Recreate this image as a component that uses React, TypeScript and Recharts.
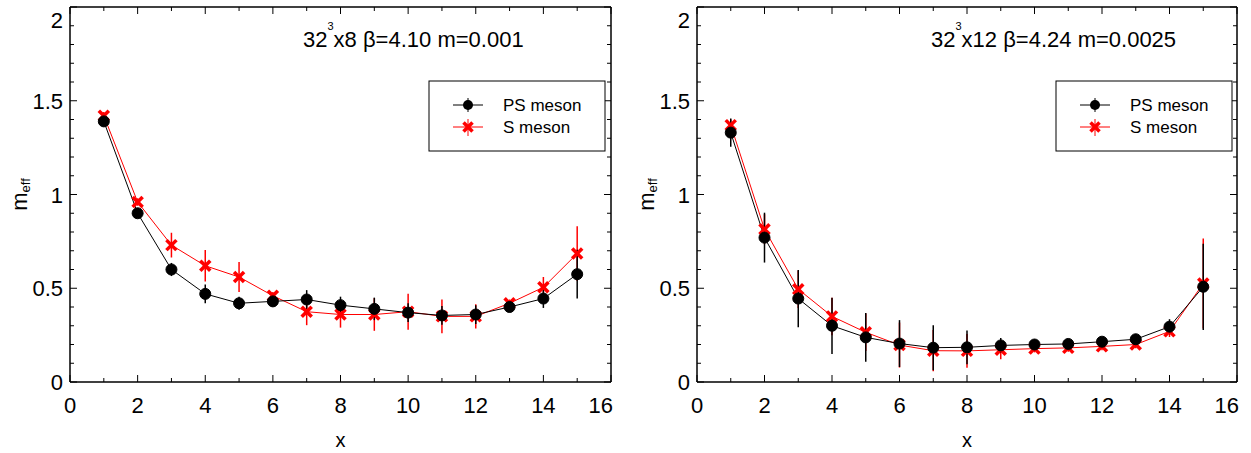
import React from 'react';
import { ComposedChart, Line, XAxis, YAxis, ErrorBar, ReferenceLine } from 'recharts';

const FONT = '"Liberation Sans", Arial, sans-serif';

// time slice x
const xValues = [1, 2, 3, 4, 5, 6, 7, 8, 9, 10, 11, 12, 13, 14, 15];
const xTicks = [0, 1, 2, 3, 4, 5, 6, 7, 8, 9, 10, 11, 12, 13, 14, 15, 16];
const yTicks = [0, 0.1, 0.2, 0.3, 0.4, 0.5, 0.6, 0.7, 0.8, 0.9, 1, 1.1, 1.2, 1.3, 1.4, 1.5, 1.6, 1.7, 1.8, 1.9, 2];

// left panel: 32^3x8 beta=4.10 m=0.001
const psLeft = [1.39, 0.9, 0.6, 0.47, 0.42, 0.43, 0.44, 0.41, 0.39, 0.37, 0.355, 0.36, 0.4, 0.445, 0.575];
const psLeftErr = [0.02, 0.02, 0.035, 0.05, 0.035, 0.02, 0.05, 0.045, 0.06, 0.05, 0.05, 0.05, 0.02, 0.05, 0.13];
const sLeft = [1.42, 0.96, 0.73, 0.62, 0.56, 0.46, 0.375, 0.36, 0.36, 0.375, 0.35, 0.35, 0.42, 0.505, 0.685];
const sLeftErr = [0.02, 0.02, 0.066, 0.084, 0.08, 0.02, 0.072, 0.07, 0.087, 0.096, 0.09, 0.065, 0.02, 0.055, 0.146];

// right panel: 32^3x12 beta=4.24 m=0.0025
const psRight = [1.33, 0.77, 0.445, 0.3, 0.238, 0.205, 0.183, 0.185, 0.195, 0.2, 0.203, 0.215, 0.228, 0.295, 0.508];
const psRightErr = [0.075, 0.133, 0.153, 0.15, 0.13, 0.125, 0.12, 0.09, 0.04, 0.02, 0.02, 0.02, 0.02, 0.04, 0.23];
const sRight = [1.37, 0.815, 0.495, 0.35, 0.265, 0.197, 0.167, 0.166, 0.172, 0.178, 0.182, 0.19, 0.2, 0.27, 0.525];
const sRightErr = [0.03, 0.08, 0.1, 0.1, 0.1, 0.12, 0.11, 0.09, 0.05, 0.02, 0.02, 0.02, 0.02, 0.03, 0.24];

const buildRows = (ps: number[], psErr: number[], s: number[], sErr: number[]) =>
  xValues.map((x, i) => ({ x, ps: ps[i], psErr: psErr[i], s: s[i], sErr: sErr[i] }));

const isMajorY = (v: number) => Math.abs(v * 2 - Math.round(v * 2)) < 1e-6;

// bottom axis tick: inward tick on bottom and mirrored one on the top edge
function BottomTick(props: any) {
  const { x, y, payload, plotTop } = props;
  const major = payload.value % 2 === 0;
  const len = major ? 7 : 4;
  const last = payload.value === 16;
  return (
    <g>
      <line x1={x} x2={x} y1={y} y2={y - len} stroke="#000" strokeWidth={1} />
      <line x1={x} x2={x} y1={plotTop} y2={plotTop + len} stroke="#000" strokeWidth={1} />
      {major && (
        <text
          x={last ? x + 2 : x}
          y={y + 31}
          textAnchor={last ? 'end' : 'middle'}
          fontSize={22}
          fontFamily={FONT}
          fill="#000"
        >
          {payload.value}
        </text>
      )}
    </g>
  );
}

// left axis tick: inward tick on left and mirrored one on the right edge
function LeftTick(props: any) {
  const { x, y, payload, plotRight } = props;
  const major = isMajorY(payload.value);
  const len = major ? 7 : 4;
  const top = payload.value === 2;
  return (
    <g>
      <line x1={x} x2={x + len} y1={y} y2={y} stroke="#000" strokeWidth={1} />
      <line x1={plotRight} x2={plotRight - len} y1={y} y2={y} stroke="#000" strokeWidth={1} />
      {major && (
        <text x={x - 7} y={y + 8 + (top ? 13 : 0)} textAnchor="end" fontSize={22} fontFamily={FONT} fill="#000">
          {Number(payload.value.toFixed(1)).toString()}
        </text>
      )}
    </g>
  );
}

function MeffLabel(props: any) {
  const vb = props.viewBox || { x: 0, y: 7, width: 70, height: 375 };
  const cx = vb.x + 19;
  const cy = vb.y + vb.height / 2;
  return (
    <text
      x={cx}
      y={cy}
      transform={`rotate(-90 ${cx} ${cy})`}
      textAnchor="middle"
      dominantBaseline="central"
      fontSize={22}
      fontFamily={FONT}
      fill="#000"
    >
      m<tspan fontSize={13} dy={6}>eff</tspan>
    </text>
  );
}

function CrossDot(props: any) {
  const { cx, cy, index } = props;
  if (cx == null || cy == null) return <g key={`c-${index}`} />;
  const d = 5;
  return (
    <g key={`c-${index}`}>
      <line x1={cx - d} y1={cy - d} x2={cx + d} y2={cy + d} stroke="#ff0000" strokeWidth={3.5} />
      <line x1={cx - d} y1={cy + d} x2={cx + d} y2={cy - d} stroke="#ff0000" strokeWidth={3.5} />
    </g>
  );
}

const axisLine = { stroke: '#000', strokeWidth: 1.5 };
const MARGIN = { top: 7, right: 9, bottom: 0, left: 0 };

function Panel({ rows, width }: { rows: any[]; width: number }) {
  const plotRight = width - MARGIN.right;
  return (
    <ComposedChart width={width} height={453} data={rows} margin={MARGIN} style={{ overflow: 'visible' }}>
      <XAxis
        dataKey="x"
        type="number"
        domain={[0, 16]}
        ticks={xTicks}
        interval={0}
        allowDataOverflow
        height={71}
        tickSize={0}
        tickMargin={0}
        tickLine={false}
        tick={<BottomTick plotTop={MARGIN.top} />}
        axisLine={axisLine}
        label={{ value: 'x', position: 'insideBottom', offset: 6, fontSize: 20, fill: '#000', fontFamily: FONT }}
      />
      <YAxis
        type="number"
        domain={[0, 2]}
        ticks={yTicks}
        interval={0}
        allowDataOverflow
        width={70}
        tickSize={0}
        tickMargin={0}
        tickLine={false}
        tick={<LeftTick plotRight={plotRight} />}
        axisLine={axisLine}
        label={(p: any) => <MeffLabel {...p} />}
      />
      {/* top and right frame of the box */}
      <ReferenceLine y={2} stroke="#000" strokeWidth={1.5} ifOverflow="visible" />
      <ReferenceLine x={16} stroke="#000" strokeWidth={1.5} ifOverflow="visible" />
      <Line
        dataKey="s"
        type="linear"
        stroke="#ff0000"
        strokeWidth={1}
        dot={CrossDot}
        activeDot={false}
        isAnimationActive={false}
      >
        <ErrorBar dataKey="sErr" width={0} stroke="#ff0000" strokeWidth={1.5} direction="y" isAnimationActive={false} />
      </Line>
      <Line
        dataKey="ps"
        type="linear"
        stroke="#000"
        strokeWidth={1}
        dot={{ r: 5.5, fill: '#000', stroke: '#000', strokeWidth: 1 }}
        activeDot={false}
        isAnimationActive={false}
      >
        <ErrorBar dataKey="psErr" width={0} stroke="#000" strokeWidth={1.5} direction="y" isAnimationActive={false} />
      </Line>
    </ComposedChart>
  );
}

function Legend({ left }: { left: number }) {
  const mx = left + 39;
  return (
    <g fontFamily={FONT} fontSize={17} fill="#000">
      <rect x={left} y={81} width={176} height={70} fill="#fff" stroke="#000" strokeWidth={1} />
      <line x1={mx - 15} x2={mx + 15} y1={105} y2={105} stroke="#000" />
      <line x1={mx} x2={mx} y1={98} y2={112} stroke="#000" />
      <circle cx={mx} cy={105} r={5} fill="#000" />
      <text x={left + 74} y={111}>PS meson</text>
      <line x1={mx - 15} x2={mx + 15} y1={127} y2={127} stroke="#ff0000" />
      <line x1={mx} x2={mx} y1={119} y2={136} stroke="#ff0000" />
      <line x1={mx - 4.5} y1={122.5} x2={mx + 4.5} y2={131.5} stroke="#ff0000" strokeWidth={3.5} />
      <line x1={mx - 4.5} y1={131.5} x2={mx + 4.5} y2={122.5} stroke="#ff0000" strokeWidth={3.5} />
      <text x={left + 74} y={133}>S meson</text>
    </g>
  );
}

function Title({ x, lt, rest }: { x: number; lt: string; rest: string }) {
  return (
    <text x={x} y={47} fontFamily={FONT} fontSize={22} fill="#000">
      {'32'}
      <tspan fontSize={11} dy={-17}>3</tspan>
      <tspan dy={17}>{`x${lt} ${rest}`}</tspan>
    </text>
  );
}

export default function App() {
  const leftRows = buildRows(psLeft, psLeftErr, sLeft, sLeftErr);
  const rightRows = buildRows(psRight, psRightErr, sRight, sRightErr);
  return (
    <div style={{ position: 'absolute', left: 0, top: 0, width: 1251, height: 453, background: '#fff' }}>
      <div style={{ position: 'absolute', left: 0, top: 0 }}>
        <Panel rows={leftRows} width={620} />
      </div>
      <div style={{ position: 'absolute', left: 627, top: 0 }}>
        <Panel rows={rightRows} width={619} />
      </div>
      <svg width={1251} height={453} style={{ position: 'absolute', left: 0, top: 0, pointerEvents: 'none' }}>
        <Title x={303} lt="8" rest="β=4.10 m=0.001" />
        <Title x={931} lt="12" rest="β=4.24 m=0.0025" />
        <Legend left={429} />
        <Legend left={1056} />
      </svg>
    </div>
  );
}
